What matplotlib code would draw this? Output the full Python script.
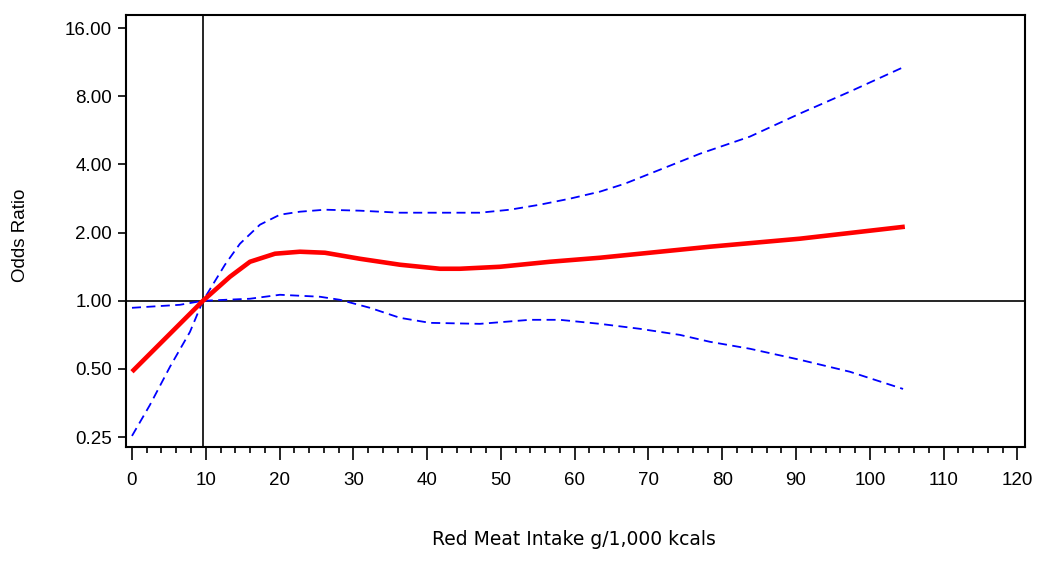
import numpy as np
import matplotlib.pyplot as plt
from matplotlib.ticker import FixedLocator, MultipleLocator

plt.rcParams["font.family"] = ["Liberation Sans", "DejaVu Sans"]

# ----------------------------
# Data
# ----------------------------
x_or = [0, 5.15, 9.62, 13.28, 15.99, 19.38, 22.76, 26.15, 30.89, 36.31, 41.73,
        44.44, 49.86, 56.64, 63.41, 71.54, 78.32, 90.51, 104.74]
y_or = [0.486, 0.715, 1.0, 1.277, 1.487, 1.614, 1.647, 1.63, 1.533, 1.443, 1.385,
        1.385, 1.413, 1.487, 1.549, 1.647, 1.733, 1.880, 2.124]

x_up = [0, 2.44, 5.15, 7.86, 9.62, 12.6, 14.63, 17.34, 20.05, 22.76, 26.15, 30.89,
        36.31, 47.15, 51.22, 55.28, 59.35, 63.41, 66.8, 76.96, 83.74, 90.51, 97.29, 104.74]
y_up = [0.253, 0.347, 0.511, 0.729, 1.0, 1.443, 1.786, 2.168, 2.40, 2.474, 2.525, 2.50,
        2.449, 2.449, 2.525, 2.657, 2.825, 3.033, 3.29, 4.46, 5.31, 6.71, 8.39, 10.83]

x_lo = [0, 6.5, 9.62, 15.99, 20.05, 25.47, 28.18, 32.25, 36.31, 40.38, 47.15, 53.93,
        57.99, 63.41, 68.83, 74.25, 78.32, 83.74, 90.51, 97.29, 104.5]
y_lo = [0.931, 0.960, 1.0, 1.021, 1.063, 1.042, 1.010, 0.931, 0.841, 0.799, 0.791, 0.824,
        0.824, 0.791, 0.752, 0.707, 0.659, 0.614, 0.549, 0.486, 0.408]

y_ticks = [0.25, 0.5, 1, 2, 4, 8, 16]
y_ticklabels = ["0.25", "0.50", "1.00", "2.00", "4.00", "8.00", "16.00"]
x_ref = 9.62

# ----------------------------
# Plot
# ----------------------------
fig = plt.figure(figsize=(10.5, 5.67), dpi=100)
ax = fig.add_axes([0.12, 0.2116, 0.856, 0.7611])

ax.axhline(1.0, color="black", lw=1.2, zorder=1)
ax.axvline(x_ref, color="black", lw=1.2, zorder=1)

ax.plot(x_up, y_up, color="blue", lw=1.3, ls=(0, (5, 3)), zorder=2)
ax.plot(x_lo, y_lo, color="blue", lw=1.3, ls=(0, (5, 3)), zorder=2)
ax.plot(x_or, y_or, color="red", lw=3.3, zorder=3, solid_capstyle="butt")

ax.set_yscale("log", base=2)
ax.set_ylim(0.226, 18.2)
ax.set_xlim(-0.81, 121.0)

ax.yaxis.set_major_locator(FixedLocator(y_ticks))
ax.yaxis.set_minor_locator(FixedLocator([]))
ax.set_yticklabels(y_ticklabels)
ax.xaxis.set_major_locator(MultipleLocator(10))
ax.xaxis.set_minor_locator(MultipleLocator(2))

ax.tick_params(axis="y", which="major", length=6, width=1.2, pad=4, labelsize=13.5)
ax.tick_params(axis="x", which="major", length=9, width=1.2, pad=9, labelsize=13.5)
ax.tick_params(axis="x", which="minor", length=4.5, width=1.2)
for s in ax.spines.values():
    s.set_linewidth(1.5)

fig.text(0.02, 0.585, "Odds Ratio", rotation=90, ha="center", va="center", fontsize=13.5)
fig.text(0.547, 0.048, "Red Meat Intake g/1,000 kcals", ha="center", va="center",
         fontsize=13.5, family=["DejaVu Sans"])

plt.savefig("out.png", dpi=100)
